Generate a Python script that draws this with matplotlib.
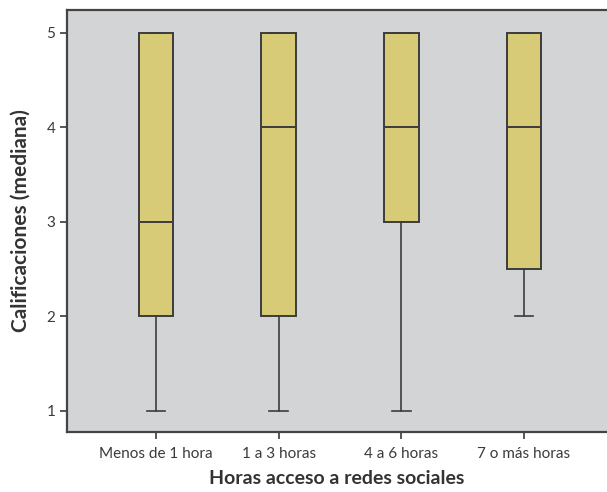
import matplotlib
matplotlib.use("Agg")
import matplotlib.pyplot as plt

# five-number summaries
groups = ["Menos de 1 hora", "1 a 3 horas", "4 a 6 horas", "7 o más horas"]
whisk_lo = [1, 1, 1, 2]
q1 = [2, 2, 3, 2.5]
median = [3, 4, 4, 4]
q3 = [5, 5, 5, 5]
whisk_hi = [5, 5, 5, 5]

plt.rcParams['font.family'] = ['Lato', 'DejaVu Sans']

stats = []
for i, name in enumerate(groups):
    stats.append(dict(label=name, whislo=whisk_lo[i], q1=q1[i], med=median[i],
                      q3=q3[i], whishi=whisk_hi[i], fliers=[]))

fig = plt.figure(figsize=(6.07, 4.92), dpi=100)
ax = fig.add_axes([0.1104, 0.122, 0.8896, 0.8577])
ax.set_facecolor('#d3d4d6')

edge = '#3c3c3c'
ax.bxp(stats, positions=[1, 2, 3, 4], widths=0.28, patch_artist=True,
       showfliers=False,
       boxprops=dict(facecolor='#d7cb78', edgecolor=edge, linewidth=1.4),
       medianprops=dict(color=edge, linewidth=1.4),
       whiskerprops=dict(color=edge, linewidth=1.2),
       capprops=dict(color=edge, linewidth=1.2),
       capwidths=0.15)

ax.set_xlim(0.275, 4.676)
ax.set_ylim(0.778, 5.24)
ax.set_yticks([1, 2, 3, 4, 5])
ax.set_xticks([1, 2, 3, 4])
ax.set_xticklabels(groups)

for s in ['left', 'bottom', 'top']:
    ax.spines[s].set_color('#444444')
    ax.spines[s].set_linewidth(1.6)
ax.spines['right'].set_visible(False)
ax.tick_params(colors='#3a3a3a', labelsize=11, length=5, width=1.2)
ax.tick_params(axis='x', pad=6)

ax.set_xlabel("Horas acceso a redes sociales", fontsize=14, fontweight='bold',
              color='#333333', labelpad=6)
ax.set_ylabel("Calificaciones (mediana)", fontsize=15, fontweight='bold',
              color='#333333', labelpad=11)

fig.savefig("out.png", dpi=100)
